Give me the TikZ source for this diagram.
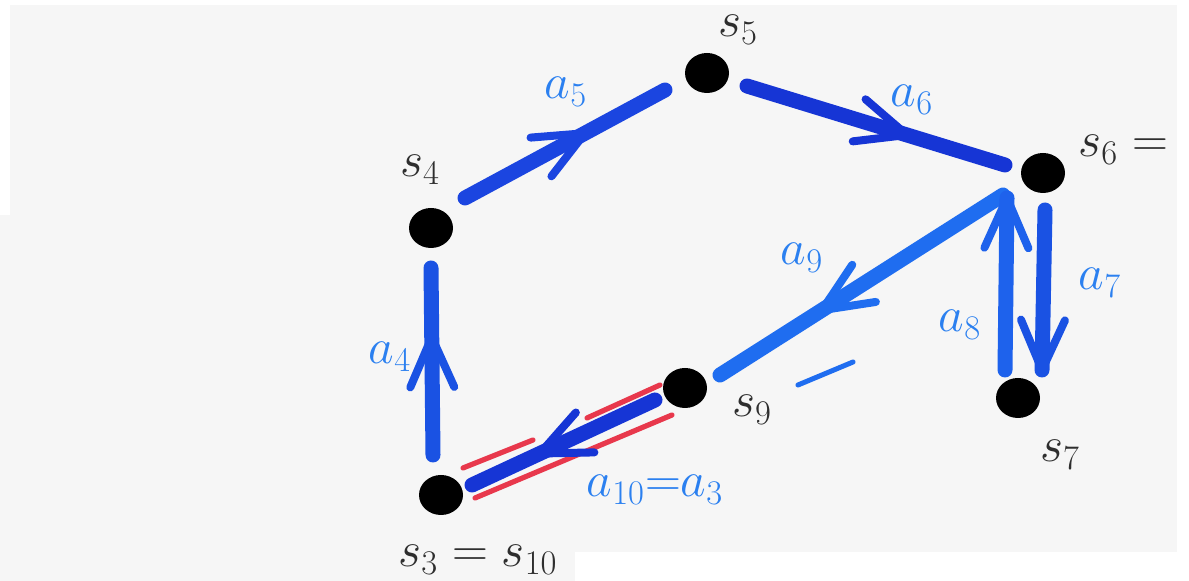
\documentclass[tikz,border=0pt]{standalone}
\usetikzlibrary{decorations.markings,shapes.geometric}
\definecolor{bg}{HTML}{F6F6F6}
\definecolor{cA}{HTML}{1B45E0}
\definecolor{cB}{HTML}{1635D5}
\definecolor{cC}{HTML}{1F6DF0}
\definecolor{cD}{HTML}{1A52E3}
\definecolor{cE}{HTML}{1E62EC}
\definecolor{lbl}{HTML}{2B80F0}
\definecolor{ink}{HTML}{2E2E2E}
\definecolor{redm}{HTML}{E8384C}
\tikzset{
  dot/.style={ellipse,fill=black,minimum width=22pt,minimum height=20pt,inner sep=0pt},
  edge/.style={line width=7.5pt,line cap=round},
  redline/.style={redm,line width=2.6pt,line cap=round},
  alab/.style={text=lbl,font=\fontsize{26}{30}\selectfont,inner sep=0pt},
  slab/.style={text=ink,font=\fontsize{26}{30}\selectfont,inner sep=0pt},
  vhead/.style 2 args={postaction={decorate,decoration={markings,
     mark=at position #1 with {\draw[#2,line width=4pt,line cap=round,line join=round]
       (-25pt,11pt) -- (0pt,0pt) -- (-25pt,-11pt);}}}}
}
\begin{document}
\begin{tikzpicture}[x=0.5pt,y=-0.5pt]
\useasboundingbox (0,0) rectangle (1189,581);
% paper
\fill[white] (0,0) rectangle (1189,581);
\fill[bg] (10,5) rectangle (1177,552);
\fill[bg] (0,215) rectangle (10,581);
\fill[bg] (0,552) rectangle (575,581);

% vertices
\node[dot] (s5) at (707,73) {};
\node[dot] (s4) at (431,228) {};
\node[dot] (s6) at (1043,173) {};
\node[dot] (s9) at (685,388) {};
\node[dot] (s7) at (1018,398) {};
\node[dot] (s3) at (441,495) {};

% edge end points
\coordinate (e5a) at (465,198);  \coordinate (e5b) at (665,90);
\coordinate (e6a) at (747,86);   \coordinate (e6b) at (1005,165);
\coordinate (e9a) at (1003,195); \coordinate (e9b) at (720,375);
\coordinate (e4a) at (433,455);  \coordinate (e4b) at (431,268);
\coordinate (e7a) at (1045,210); \coordinate (e7b) at (1042,370);
\coordinate (e8a) at (1005,370); \coordinate (e8b) at (1007,198);
\coordinate (eXa) at (655,400);  \coordinate (eXb) at (472,485);

% red marks along a10
\draw[redline] (463,468) -- (533,440);
\draw[redline] (587,418) -- (660,385);
\draw[redline] (475,498) -- (672,415);

% edges
\draw[edge,cA,vhead={0.6}{cA}] (e5a) -- (e5b);
\draw[edge,cB,vhead={0.62}{cB}] (e6a) -- (e6b);
\draw[edge,cC,vhead={0.64}{cC}] (e9a) -- (e9b);
\draw[edge,cD,vhead={0.63}{cD}] (e4a) -- (e4b);
\draw[edge,cD,vhead={1}{cD}] (e7a) -- (e7b);
\draw[edge,cE,vhead={1}{cE}] (e8a) -- (e8b);
\draw[edge,cB,vhead={0.63}{cB}] (eXa) -- (eXb);

% stray pen mark
\coordinate (m1) at (798,385); \coordinate (m2) at (853,362);
\draw[cC,line width=2.5pt,line cap=round] (m1) -- (m2);

% labels
\node[alab] (la5) at (566,92) {$a_5$};
\node[alab] (la6) at (912,100) {$a_6$};
\node[alab] (la9) at (802,258) {$a_9$};
\node[alab] (la7) at (1100,283) {$a_7$};
\node[alab] (la8) at (960,325) {$a_8$};
\node[alab] (la4) at (390,357) {$a_4$};
\node[alab] (la10) at (655,490) {$a_{10}{=}a_3$};

\node[slab] (ls5) at (738,30) {$s_5$};
\node[slab] (ls4) at (420,170) {$s_4$};
\node[slab,anchor=west] (ls6) at (1078,150) {$s_6=$};
\node[slab] (ls9) at (752,410) {$s_9$};
\node[slab] (ls7) at (1060,455) {$s_7$};
\node[slab] (ls3) at (478,560) {$s_3=s_{10}$};
\end{tikzpicture}
\end{document}
